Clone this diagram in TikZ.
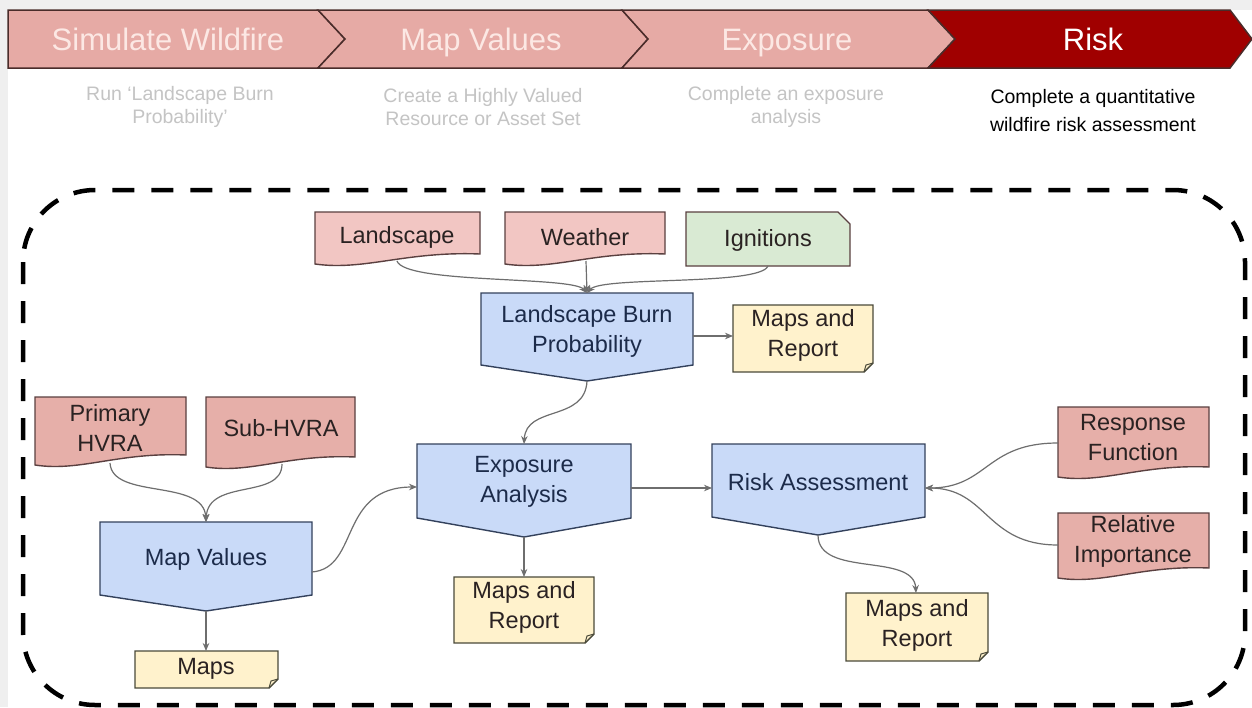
\documentclass[tikz,border=0pt]{standalone}
\usepackage{fontspec}
\setmainfont{Liberation Sans}
\usetikzlibrary{arrows.meta}
\definecolor{bgray}{HTML}{EFEFEF}
\definecolor{bannerpink}{HTML}{E6AAA5}
\definecolor{bannerred}{HTML}{A00000}
\definecolor{bannerline}{HTML}{4A2C2A}
\definecolor{headtxt}{HTML}{FCE8E4}
\definecolor{subgray}{HTML}{C4C4C4}
\definecolor{bluefill}{HTML}{C9DAF8}
\definecolor{blueline}{HTML}{33415C}
\definecolor{bluetxt}{HTML}{1C2B4A}
\definecolor{pinkA}{HTML}{F2C6C3}
\definecolor{pinkB}{HTML}{E6AFA9}
\definecolor{pinkline}{HTML}{5A4040}
\definecolor{greenfill}{HTML}{D9EAD3}
\definecolor{yellowfill}{HTML}{FFF2CC}
\definecolor{notebrd}{HTML}{4A4A3A}
\definecolor{connclr}{HTML}{6E6E6E}
\definecolor{doctxt}{HTML}{2A2222}
\tikzset{
  shapeline/.style={line width=1.4pt, line join=miter},
  boxtext/.style={inner sep=0pt, align=center, font=\fontsize{23.5}{30}\selectfont},
  headtext/.style={inner sep=0pt, anchor=base, font=\fontsize{31}{36}\selectfont},
  subtext/.style={inner sep=0pt, align=center, font=\fontsize{19.5}{23}\selectfont, text=subgray},
  subblack/.style={inner sep=0pt, align=center, font=\fontsize{19.5}{28}\selectfont, text=black},
  connector/.style={draw=connclr, line width=1.2pt, -{Stealth[length=8pt,width=6.5pt]}},
  bannerseg/.style={draw=bannerline, line width=1.5pt, line join=miter},
}
\newcommand\DocShape[5]{%
  \filldraw[shapeline, draw=pinkline, fill=#5] (#1,#2) -- (#3,#2) -- (#3,{#4-10})
    .. controls ({#1+0.55*(#3-#1)},{#4-13}) and ({#1+0.3*(#3-#1)},{#4+7}) .. (#1,#4) -- cycle;}
\newcommand\OffPage[6]{%
  \filldraw[shapeline, draw=blueline, fill=bluefill] (#1,#2) -- (#3,#2) -- (#3,#4) -- (#5,#6) -- (#1,#4) -- cycle;}
\newcommand\FoldNote[4]{%
  \filldraw[shapeline, draw=notebrd, fill=yellowfill] (#1,#2) -- (#3,#2) -- (#3,{#4-9}) -- ({#3-9},#4) -- (#1,#4) -- cycle;
  \draw[line width=1pt, draw=notebrd] ({#3-9},#4) -- ({#3-7},{#4-7}) -- (#3,{#4-9});}
\newcommand\CardShape[5]{%
  \filldraw[shapeline, draw=pinkline, fill=#5] (#1,#2) -- ({#3-12},#2) -- (#3,{#2+12}) -- (#3,#4) -- (#1,#4) -- cycle;}
\begin{document}
\begin{tikzpicture}[x=1pt,y=-1pt]
\useasboundingbox (0,0) rectangle (1252,707);
\fill[bgray] (0,0) rectangle (1252,707);
\fill[white] (8,10) rectangle (1252,707);

% banner
\filldraw[bannerseg, fill=bannerpink] (8,10) -- (318,10) -- (345,39) -- (318,68) -- (8,68) -- cycle;
\filldraw[bannerseg, fill=bannerpink] (318,10) -- (622,10) -- (648,39) -- (622,68) -- (318,68) -- (345,39) -- cycle;
\filldraw[bannerseg, fill=bannerpink] (622,10) -- (928,10) -- (955,39) -- (928,68) -- (622,68) -- (648,39) -- cycle;
\filldraw[bannerseg, fill=bannerred] (928,10) -- (1230,10) -- (1252,39) -- (1230,68) -- (928,68) -- (955,39) -- cycle;
\node[headtext, text=headtxt] (h1) at (168,50) {Simulate Wildfire};
\node[headtext, text=headtxt] (h2) at (481,50) {Map Values};
\node[headtext, text=headtxt] (h3) at (787,50) {Exposure};
\node[headtext, text=white] (h4) at (1093,50) {Risk};
\node[subtext] (s1) at (180,107) {Run `Landscape Burn\\Probability'};
\node[subtext] (s2) at (483,107) {Create a Highly Valued\\Resource or Asset Set};
\node[subtext] (s3) at (786,107) {Complete an exposure\\analysis};
\node[subblack] (s4) at (1093,111) {Complete a quantitative\\wildfire risk assessment};

% dashed frame
\draw[line width=4.5pt, dash pattern=on 22pt off 17pt, rounded corners=72pt] (23,190) rectangle (1245,705);

% shapes
\DocShape{315}{212}{480}{264}{pinkA}
\DocShape{505}{212}{665}{264}{pinkA}
\CardShape{686}{212}{850}{266}{greenfill}
\OffPage{481}{293}{693}{365}{587}{381}
\FoldNote{733}{305}{873}{372}
\DocShape{35}{397}{186}{465}{pinkB}
\DocShape{206}{397}{355}{467}{pinkB}
\OffPage{417}{444}{631}{518}{524}{537}
\OffPage{100}{522}{312}{595}{206}{611}
\FoldNote{135}{651}{278}{688}
\FoldNote{454}{577}{594}{643}
\OffPage{712}{444}{925}{517}{818}{535}
\DocShape{1058}{407}{1209}{477}{pinkB}
\DocShape{1058}{513}{1209}{578}{pinkB}
\FoldNote{846}{593}{988}{661}

% texts
\node[boxtext, text=doctxt] (land) at (397,237) {Landscape};
\node[boxtext, text=doctxt] (wea) at (585,237) {Weather};
\node[boxtext, text=doctxt] (ign) at (768,240) {Ignitions};
\node[boxtext, text=bluetxt] (lbp) at (587,331) {Landscape Burn\\Probability};
\node[boxtext, text=doctxt] (mr1) at (803,335) {Maps and\\Report};
\node[boxtext, text=doctxt] (phv) at (110,428) {Primary\\HVRA};
\node[boxtext, text=doctxt] (shv) at (281,428) {Sub-HVRA};
\node[boxtext, text=bluetxt] (exp) at (524,482) {Exposure\\Analysis};
\node[boxtext, text=bluetxt] (mv) at (206,559) {Map Values};
\node[boxtext, text=doctxt] (maps) at (206,669) {Maps};
\node[boxtext, text=doctxt] (mr2) at (524,607) {Maps and\\Report};
\node[boxtext, text=bluetxt] (ra) at (818,482) {Risk Assessment};
\node[boxtext, text=doctxt] (rf) at (1133,438) {Response\\Function};
\node[boxtext, text=doctxt] (ri) at (1133,541) {Relative\\Importance};
\node[boxtext, text=doctxt] (mr3) at (917,625) {Maps and\\Report};

% anchor points
\coordinate (land-s) at (397,261);
\coordinate (wea-s) at (586,261);
\coordinate (ign-s) at (768,266);
\coordinate (lbp-n) at (587,293);
\coordinate (lbp-e) at (693,336);
\coordinate (lbp-s) at (587,381);
\coordinate (mr1-w) at (733,336);
\coordinate (phv-s) at (110,463);
\coordinate (shv-s) at (282,464);
\coordinate (mv-n) at (206,522);
\coordinate (mv-e) at (312,572);
\coordinate (mv-s) at (206,611);
\coordinate (maps-n) at (206,651);
\coordinate (exp-n) at (524,444);
\coordinate (exp-w) at (417,487);
\coordinate (exp-e) at (631,488);
\coordinate (exp-s) at (524,537);
\coordinate (mr2-n) at (524,577);
\coordinate (ra-w) at (712,488);
\coordinate (ra-e) at (925,488);
\coordinate (ra-s) at (818,535);
\coordinate (rf-w) at (1058,443);
\coordinate (ri-w) at (1058,545);
\coordinate (mr3-n) at (916,593);

% connectors
\draw[connector] (land-s) .. controls (405,284) and (572,276) .. (lbp-n);
\draw[connector] (wea-s) -- (lbp-n);
\draw[connector] (ign-s) .. controls (760,286) and (602,276) .. (lbp-n);
\draw[connector] (lbp-e) -- (mr1-w);
\draw[connector] (lbp-s) .. controls (585,422) and (526,405) .. (exp-n);
\draw[connector] (phv-s) .. controls (112,500) and (204,478) .. (mv-n);
\draw[connector] (shv-s) .. controls (282,500) and (208,478) .. (mv-n);
\draw[connector] (mv-e) .. controls (360,568) and (338,487) .. (exp-w);
\draw[connector] (mv-s) -- (maps-n);
\draw[connector] (exp-s) -- (mr2-n);
\draw[connector] (exp-e) -- (ra-w);
\draw[connector] (rf-w) .. controls (985,443) and (988,488) .. (ra-e);
\draw[connector] (ri-w) .. controls (985,545) and (988,488) .. (ra-e);
\draw[connector] (ra-s) .. controls (818,578) and (914,552) .. (mr3-n);
\end{tikzpicture}
\end{document}
